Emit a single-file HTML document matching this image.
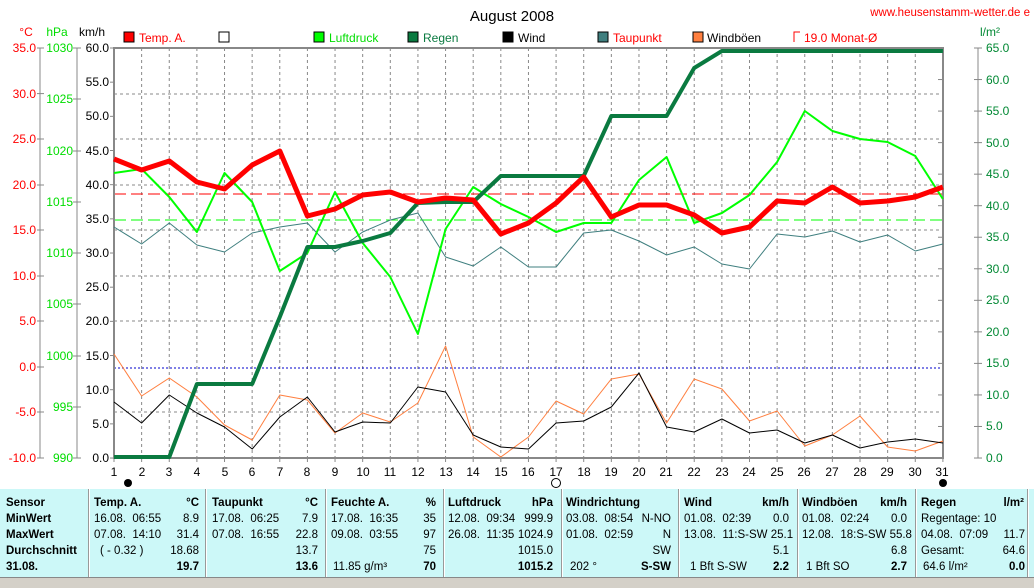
<!DOCTYPE html>
<html><head><meta charset="utf-8"><style>
body{margin:0;width:1034px;height:587px;overflow:hidden;background:#fff;font-family:"Liberation Sans",sans-serif;position:relative}
svg{position:absolute;left:0;top:0}
.tb{position:absolute;left:0;top:489px;width:1034px;height:88px;background:#ccf8f8}
.c{position:absolute;font-size:11.5px;color:#000;white-space:nowrap;line-height:14px}
.b{font-weight:bold}
.sep{position:absolute;top:489px;height:88px;width:1px;background:#999;border-right:1px solid #fff}
.bot{position:absolute;left:0;top:577px;width:1034px;height:10px;background:#d4d0c8;border-top:1px solid #888}
</style></head><body>
<svg id="s" width="1034" height="489" font-family="Liberation Sans, sans-serif" font-size="12">
<text x="512" y="21" text-anchor="middle" font-size="15">August 2008</text>
<text x="1030" y="16" text-anchor="end" fill="#f00" font-size="11.5">www.heusenstamm-wetter.de e</text>
<text x="26" y="36" text-anchor="middle" fill="#f00">°C</text>
<text x="57" y="36" text-anchor="middle" fill="#0d0">hPa</text>
<text x="92" y="36" text-anchor="middle">km/h</text>
<text x="990" y="36" text-anchor="middle" fill="#083">l/m²</text>
<g font-size="12">
<rect x="124" y="32" width="10" height="10" fill="#f00" stroke="#000"/><text x="139" y="42" fill="#f00">Temp. A.</text>
<rect x="219" y="32" width="10" height="10" fill="#fff" stroke="#000"/>
<rect x="314" y="32" width="10" height="10" fill="#0f0" stroke="#000"/><text x="329" y="42" fill="#0d0">Luftdruck</text>
<rect x="408" y="32" width="10" height="10" fill="#0a7a40" stroke="#000"/><text x="423" y="42" fill="#0a7a40">Regen</text>
<rect x="503" y="32" width="10" height="10" fill="#000" stroke="#000"/><text x="518" y="42">Wind</text>
<rect x="598" y="32" width="10" height="10" fill="#3f7f7f" stroke="#000"/><text x="613" y="42" fill="#f00">Taupunkt</text>
<rect x="693" y="32" width="10" height="10" fill="#ff7f3f" stroke="#000"/><text x="707" y="42">Windböen</text>
<path d="M794 42V32H800" fill="none" stroke="#f00"/><text x="804" y="42" fill="#f00">19.0 Monat-Ø</text>
</g>
<g id="grid"></g>
<g font-size="12" fill="#f00" text-anchor="end">
<text x="36" y="52">35.0</text><text x="36" y="98">30.0</text><text x="36" y="143">25.0</text><text x="36" y="189">20.0</text><text x="36" y="234">15.0</text><text x="36" y="280">10.0</text><text x="36" y="325">5.0</text><text x="36" y="371">0.0</text><text x="36" y="416">-5.0</text><text x="36" y="462">-10.0</text>
</g>
<g font-size="12" fill="#0d0" text-anchor="end">
<text x="73" y="52">1030</text><text x="73" y="103">1025</text><text x="73" y="155">1020</text><text x="73" y="206">1015</text><text x="73" y="257">1010</text><text x="73" y="308">1005</text><text x="73" y="360">1000</text><text x="73" y="411">995</text><text x="73" y="462">990</text>
</g>
<g font-size="12" text-anchor="end">
<text x="109" y="52">60.0</text><text x="109" y="86">55.0</text><text x="109" y="120">50.0</text><text x="109" y="155">45.0</text><text x="109" y="189">40.0</text><text x="109" y="223">35.0</text><text x="109" y="257">30.0</text><text x="109" y="291">25.0</text><text x="109" y="325">20.0</text><text x="109" y="360">15.0</text><text x="109" y="394">10.0</text><text x="109" y="428">5.0</text><text x="109" y="462">0.0</text>
</g>
<g font-size="12" fill="#083">
<text x="986" y="52">65.0</text><text x="986" y="84">60.0</text><text x="986" y="115">55.0</text><text x="986" y="147">50.0</text><text x="986" y="178">45.0</text><text x="986" y="210">40.0</text><text x="986" y="241">35.0</text><text x="986" y="273">30.0</text><text x="986" y="304">25.0</text><text x="986" y="336">20.0</text><text x="986" y="367">15.0</text><text x="986" y="399">10.0</text><text x="986" y="430">5.0</text><text x="986" y="462">0.0</text>
</g>
<g font-size="12" text-anchor="middle" id="xl">
<text x="114" y="476">1</text><text x="142" y="476">2</text><text x="169" y="476">3</text><text x="197" y="476">4</text><text x="225" y="476">5</text><text x="252" y="476">6</text><text x="280" y="476">7</text><text x="307" y="476">8</text><text x="335" y="476">9</text><text x="363" y="476">10</text><text x="390" y="476">11</text><text x="418" y="476">12</text><text x="446" y="476">13</text><text x="473" y="476">14</text><text x="501" y="476">15</text><text x="528" y="476">16</text><text x="556" y="476">17</text><text x="584" y="476">18</text><text x="611" y="476">19</text><text x="639" y="476">20</text><text x="666" y="476">21</text><text x="694" y="476">22</text><text x="722" y="476">23</text><text x="749" y="476">24</text><text x="777" y="476">25</text><text x="804" y="476">26</text><text x="832" y="476">27</text><text x="860" y="476">28</text><text x="887" y="476">29</text><text x="915" y="476">30</text><text x="942" y="476">31</text>
</g>
<circle cx="128" cy="483" r="4" fill="#000"/><circle cx="556" cy="483" r="4.5" fill="#fff" stroke="#000"/><circle cx="943" cy="483" r="4" fill="#000"/>
<g id="ser"></g>
</svg>
<div class="tb"></div>
<div class="sep" style="left:88px"></div><div class="sep" style="left:205px"></div><div class="sep" style="left:325px"></div><div class="sep" style="left:443px"></div><div class="sep" style="left:561px"></div><div class="sep" style="left:678px"></div><div class="sep" style="left:797px"></div><div class="sep" style="left:915px"></div><div class="sep" style="left:1027px"></div>
<div class="bot"></div>
<div id="t"></div>
<!-- table text -->
<div class="c b" style="left:6px;top:496px">Sensor</div>
<div class="c b" style="left:6px;top:512px">MinWert</div>
<div class="c b" style="left:6px;top:528px">MaxWert</div>
<div class="c b" style="left:6px;top:544px">Durchschnitt</div>
<div class="c b" style="left:6px;top:560px">31.08.</div>

<div class="c b" style="left:94px;top:496px">Temp. A.</div><div class="c b" style="right:835px;top:496px">°C</div>
<div class="c" style="left:94px;top:512px">16.08.&nbsp; 06:55</div><div class="c" style="right:835px;top:512px">8.9</div>
<div class="c" style="left:94px;top:528px">07.08.&nbsp; 14:10</div><div class="c" style="right:835px;top:528px">31.4</div>
<div class="c" style="left:100px;top:544px">( - 0.32 )</div><div class="c" style="right:835px;top:544px">18.68</div>
<div class="c b" style="right:835px;top:560px">19.7</div>

<div class="c b" style="left:212px;top:496px">Taupunkt</div><div class="c b" style="right:716px;top:496px">°C</div>
<div class="c" style="left:212px;top:512px">17.08.&nbsp; 06:25</div><div class="c" style="right:716px;top:512px">7.9</div>
<div class="c" style="left:212px;top:528px">07.08.&nbsp; 16:55</div><div class="c" style="right:716px;top:528px">22.8</div>
<div class="c" style="right:716px;top:544px">13.7</div>
<div class="c b" style="right:716px;top:560px">13.6</div>

<div class="c b" style="left:331px;top:496px">Feuchte A.</div><div class="c b" style="right:598px;top:496px">%</div>
<div class="c" style="left:331px;top:512px">17.08.&nbsp; 16:35</div><div class="c" style="right:598px;top:512px">35</div>
<div class="c" style="left:331px;top:528px">09.08.&nbsp; 03:55</div><div class="c" style="right:598px;top:528px">97</div>
<div class="c" style="right:598px;top:544px">75</div>
<div class="c" style="left:333px;top:560px">11.85 g/m³</div><div class="c b" style="right:598px;top:560px">70</div>

<div class="c b" style="left:448px;top:496px">Luftdruck</div><div class="c b" style="right:481px;top:496px">hPa</div>
<div class="c" style="left:448px;top:512px">12.08.&nbsp; 09:34</div><div class="c" style="right:481px;top:512px">999.9</div>
<div class="c" style="left:448px;top:528px">26.08.&nbsp; 11:35</div><div class="c" style="right:481px;top:528px">1024.9</div>
<div class="c" style="right:481px;top:544px">1015.0</div>
<div class="c b" style="right:481px;top:560px">1015.2</div>

<div class="c b" style="left:566px;top:496px">Windrichtung</div>
<div class="c" style="left:566px;top:512px">03.08.&nbsp; 08:54</div><div class="c" style="right:363px;top:512px">N-NO</div>
<div class="c" style="left:566px;top:528px">01.08.&nbsp; 02:59</div><div class="c" style="right:363px;top:528px">N</div>
<div class="c" style="right:363px;top:544px">SW</div>
<div class="c" style="left:570px;top:560px">202 °</div><div class="c b" style="right:363px;top:560px">S-SW</div>

<div class="c b" style="left:684px;top:496px">Wind</div><div class="c b" style="right:245px;top:496px">km/h</div>
<div class="c" style="left:684px;top:512px">01.08.&nbsp; 02:39</div><div class="c" style="right:245px;top:512px">0.0</div>
<div class="c" style="left:684px;top:528px">13.08.&nbsp; 11:S-SW 25.1</div>
<div class="c" style="right:245px;top:544px">5.1</div>
<div class="c" style="left:690px;top:560px">1 Bft S-SW</div><div class="c b" style="right:245px;top:560px">2.2</div>

<div class="c b" style="left:802px;top:496px">Windböen</div><div class="c b" style="right:127px;top:496px">km/h</div>
<div class="c" style="left:802px;top:512px">01.08.&nbsp; 02:24</div><div class="c" style="right:127px;top:512px">0.0</div>
<div class="c" style="left:802px;top:528px">12.08.&nbsp; 18:S-SW 55.8</div>
<div class="c" style="right:127px;top:544px">6.8</div>
<div class="c" style="left:806px;top:560px">1 Bft SO</div><div class="c b" style="right:127px;top:560px">2.7</div>

<div class="c b" style="left:921px;top:496px">Regen</div><div class="c b" style="right:10px;top:496px">l/m²</div>
<div class="c" style="left:921px;top:512px">Regentage: 10</div>
<div class="c" style="left:921px;top:528px">04.08.&nbsp; 07:09</div><div class="c" style="right:9px;top:528px">11.7</div>
<div class="c" style="left:921px;top:544px">Gesamt:</div><div class="c" style="right:9px;top:544px">64.6</div>
<div class="c" style="left:923px;top:560px">64.6 l/m²</div><div class="c b" style="right:9px;top:560px">0.0</div>
<script>
var NS="http://www.w3.org/2000/svg";
function X(d){return 114+(d-1)*27.63;}
function el(p,t,a){var e=document.createElementNS(NS,t);for(var k in a)e.setAttribute(k,a[k]);p.appendChild(e);return e;}
var g=document.getElementById('grid');
for(var d=2;d<=30;d++)el(g,'line',{x1:X(d),x2:X(d),y1:48,y2:458,stroke:'#888','stroke-dasharray':'3,3'});
[94,139,185,230,276,321,412].forEach(function(y){el(g,'line',{x1:114,x2:943,y1:y,y2:y,stroke:'#888','stroke-dasharray':'3,3'});});
el(g,'line',{x1:114,x2:943,y1:368,y2:368,stroke:'#00c','stroke-dasharray':'2,2'});
el(g,'line',{x1:114,x2:943,y1:194,y2:194,stroke:'#f00','stroke-dasharray':'12,5'});
el(g,'line',{x1:114,x2:943,y1:220,y2:220,stroke:'#0f0','stroke-dasharray':'12,5'});
el(g,'rect',{x:114,y:48,width:829,height:410,fill:'none',stroke:'#888','stroke-width':2});
// left axes lines and ticks
el(g,'line',{x1:40,x2:40,y1:48,y2:458,stroke:'#888'});
el(g,'line',{x1:77,x2:77,y1:48,y2:458,stroke:'#888'});
el(g,'line',{x1:978,x2:978,y1:48,y2:458,stroke:'#888'});
[48,93.6,139,185,230,276,321,367,412,458].forEach(function(y){el(g,'line',{x1:37,x2:44,y1:y,y2:y,stroke:'#888'});});
[48,99,151,202,253,304,356,407,458].forEach(function(y){el(g,'line',{x1:73,x2:81,y1:y,y2:y,stroke:'#888'});});
for(var i=0;i<=12;i++){var y=48+i*34.17;el(g,'line',{x1:110,x2:114,y1:y,y2:y,stroke:'#888'});}
for(var i=0;i<=13;i++){var y=48+i*31.54;el(g,'line',{x1:974,x2:982,y1:y,y2:y,stroke:'#888'});el(g,'line',{x1:938,x2:943,y1:y,y2:y,stroke:'#888'});}
for(var d=1;d<=31;d++)el(g,'line',{x1:X(d),x2:X(d),y1:458,y2:462,stroke:'#888'});
var S=document.getElementById('ser');
function pl(a,c,w){var p=a.map(function(y,i){return X(i+1).toFixed(1)+','+y}).join(' ');el(S,'polyline',{points:p,fill:'none',stroke:c,'stroke-width':w,'stroke-linejoin':'round'});}
pl([354,396,378,397,425,440,395,400,433,413,422,403,346,437,457,437,401,414,379,374,423,379,389,421,411,446,435,416,447,451,441],'#ff7f3f',1);
pl([402,423,395,413,427,449,417,397,432,422,423,387,392,435,447,449,423,421,407,373,427,432,419,433,430,443,435,448,442,439,443],'#000',1);
pl([227,244,223,245,252,233,227,223,252,232,220,213,257,266,247,267,267,233,230,241,255,247,264,269,234,237,231,242,235,251,244],'#3f7f7f',1);
pl([173,169,197,232,173,202,271,253,192,243,277,334,229,187,204,217,232,223,223,180,157,223,213,195,162,111,131,139,142,156,199],'#0f0',2);
pl([457,457,457,384,384,384,317,247,247,241,233,203,202,202,176,176,176,176,116,116,116,68,51,51,51,51,51,51,51,51,51],'#0a7a40',4);
pl([159,170,161,182,189,165,151,216,209,195,192,202,198,200,234,223,203,177,217,205,205,215,233,227,201,203,187,203,201,197,187],'#f00',5);
</script>
</body></html>
